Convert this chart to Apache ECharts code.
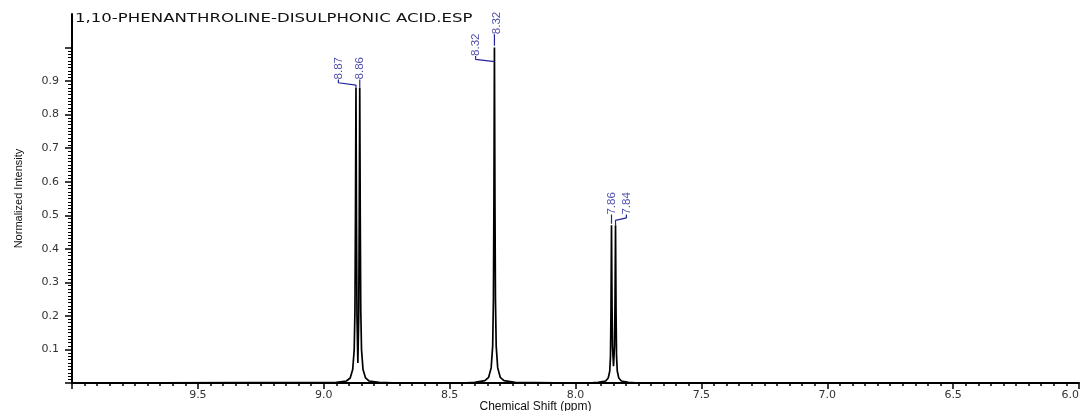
<!DOCTYPE html>
<html>
<head>
    <meta charset="utf-8">
    <title>1,10-PHENANTHROLINE-DISULPHONIC ACID.ESP</title>
    <script type="text/javascript" src="https://cdn.jsdelivr.net/npm/echarts@6/dist/echarts.min.js"></script>
    <style>
        html, body { margin: 0; padding: 0; background: #fff; }
    </style>
</head>
<body>

<div id="main" style="width: 1082px; height: 411px;"></div>

<script>
    // spectrum (ppm, normalized intensity)
    var shift = [10.0, 8.95, 8.91, 8.895, 8.885, 8.879, 8.876, 8.874, 8.872, 8.870, 8.868, 8.8645,
        8.861, 8.859, 8.857, 8.855, 8.853, 8.850, 8.844, 8.834, 8.82, 8.78, 8.70,
        8.45, 8.40, 8.36, 8.345, 8.335, 8.329, 8.326, 8.324, 8.322, 8.320, 8.318, 8.315,
        8.309, 8.299, 8.284, 8.24, 8.0,
        7.95, 7.91, 7.88, 7.87, 7.864, 7.861, 7.859, 7.857, 7.855, 7.853, 7.849,
        7.845, 7.843, 7.841, 7.839, 7.837, 7.834, 7.828, 7.818, 7.79, 7.75, 6.0];
    var intensity = [0, 0.002, 0.006, 0.015, 0.04, 0.10, 0.22, 0.50, 0.88, 0.50, 0.20, 0.06,
        0.20, 0.50, 0.88, 0.50, 0.22, 0.10, 0.04, 0.015, 0.006, 0.002, 0,
        0, 0.002, 0.007, 0.017, 0.045, 0.11, 0.25, 0.55, 1.0, 0.55, 0.25, 0.11,
        0.045, 0.017, 0.007, 0.002, 0,
        0, 0.002, 0.006, 0.015, 0.035, 0.08, 0.22, 0.47, 0.24, 0.11, 0.05,
        0.11, 0.24, 0.47, 0.22, 0.08, 0.035, 0.015, 0.006, 0.002, 0, 0];

    // peak picking labels
    var peakLabels = ['8.87', '8.86', '8.32', '8.32', '7.86', '7.84'];
    var peakShift = [8.872, 8.857, 8.322, 8.322, 7.857, 7.841];
    var peakTop = [0.88, 0.88, 0.958, 1.005, 0.475, 0.47];
    // where each label text sits (ppm, intensity of its bottom end)
    var labelShift = [8.942, 8.855, 8.397, 8.314, 7.855, 7.798];
    var labelBase = [0.905, 0.905, 0.975, 1.04, 0.502, 0.502];

    var xTicks = [6.0, 6.5, 7.0, 7.5, 8.0, 8.5, 9.0, 9.5];
    var yTicks = [0.1, 0.2, 0.3, 0.4, 0.5, 0.6, 0.7, 0.8, 0.9];

    var spectrum = [];
    for (var i = 0; i < shift.length; i++) {
        spectrum.push([shift[i], intensity[i]]);
    }

    var labelData = [];
    var connectors = [];
    for (var k = 0; k < peakLabels.length; k++) {
        labelData.push([labelShift[k], labelBase[k], peakLabels[k]]);
        var lx = labelShift[k], px = peakShift[k], lb = labelBase[k];
        var pts;
        if (Math.abs(lx - px) < 0.01) {
            pts = [[px, lb], [px, peakTop[k]]];
        } else {
            pts = [[lx, lb], [lx, lb - 0.01], [px, lb - 0.017], [px, peakTop[k]]];
        }
        connectors.push({
            type: 'line', xAxisIndex: 0, yAxisIndex: 0, data: pts,
            symbol: 'none', silent: true, animation: false,
            lineStyle: { color: '#23239b', width: 1.2 }
        });
    }

    var chart = echarts.init(document.getElementById('main'));
    var series = [{
        type: 'line',
        xAxisIndex: 0,
        yAxisIndex: 0,
        data: spectrum,
        symbol: 'none',
        sampling: 'none',
        animation: false,
        lineStyle: { color: '#000', width: 1.7 }
    }, {
        type: 'scatter',
        xAxisIndex: 0,
        yAxisIndex: 0,
        data: labelData,
        symbolSize: 0,
        animation: false,
        label: {
            show: true,
            position: [0, 0],
            rotate: 90,
            align: 'left',
            verticalAlign: 'middle',
            formatter: function (p) { return p.data[2]; },
            color: '#23239b',
            fontSize: 11.5,
            fontFamily: '"Liberation Sans", sans-serif'
        }
    }].concat(connectors);

    var option = {
        backgroundColor: '#fff',
        graphic: [{
            type: 'text',
            left: 75,
            top: 13,
            scaleX: 1.38,
            style: {
                text: '1,10-PHENANTHROLINE-DISULPHONIC ACID.ESP',
                fill: '#111',
                font: '12px "DejaVu Sans"'
            }
        }],
        grid: [
            { left: 72, right: 3, top: 14, bottom: 28, outerBoundsMode: 'none' },
            { left: 72, right: 3, top: 47.5, bottom: 28, outerBoundsMode: 'none' }
        ],
        xAxis: [{
            gridIndex: 0,
            type: 'value',
            inverse: true,
            min: 6.0,
            max: 10.0,
            interval: 0.5,
            name: 'Chemical Shift (ppm)',
            nameLocation: 'middle',
            nameGap: 18,
            nameMoveOverlap: false,
            nameTextStyle: { fontSize: 12, color: '#111', fontFamily: 'Liberation Sans', padding: [0, 80, 0, 0] },
            axisLine: { show: true, lineStyle: { color: '#000', width: 2 } },
            axisTick: { show: true, length: 6, lineStyle: { color: '#000', width: 1.5 } },
            minorTick: { show: true, splitNumber: 10, length: 3, lineStyle: { color: '#000', width: 1.5 } },
            splitLine: { show: false },
            axisLabel: {
                margin: 7,
                fontSize: 11,
                color: '#333',
                fontFamily: 'DejaVu Sans',
                alignMinLabel: 'right',
                formatter: function (v) {
                    for (var j = 0; j < xTicks.length; j++) {
                        if (Math.abs(xTicks[j] - v) < 1e-6) return v.toFixed(1);
                    }
                    return '';
                }
            }
        }, {
            gridIndex: 1,
            type: 'value',
            inverse: true,
            min: 6.0,
            max: 10.0,
            show: false
        }],
        yAxis: [{
            gridIndex: 0,
            type: 'value',
            min: 0,
            max: 1.1,
            name: 'Normalized Intensity',
            nameLocation: 'middle',
            nameGap: 48,
            nameMoveOverlap: false,
            nameTextStyle: { fontSize: 11, color: '#111', fontFamily: '"Liberation Sans", sans-serif' },
            axisLine: { show: true, lineStyle: { color: '#000', width: 2 } },
            axisTick: { show: false },
            axisLabel: { show: false },
            splitLine: { show: false }
        }, {
            gridIndex: 1,
            type: 'value',
            min: 0,
            max: 1.0,
            interval: 0.1,
            axisLine: { show: true, lineStyle: { color: '#000', width: 2 } },
            axisTick: { show: true, length: 7, lineStyle: { color: '#000', width: 1.5 } },
            minorTick: { show: true, splitNumber: 10, length: 4, lineStyle: { color: '#000', width: 1 } },
            splitLine: { show: false },
            axisLabel: {
                margin: 13,
                fontSize: 11,
                color: '#333',
                fontFamily: 'DejaVu Sans',
                formatter: function (v) {
                    for (var j = 0; j < yTicks.length; j++) {
                        if (Math.abs(yTicks[j] - v) < 1e-6) return v.toFixed(1);
                    }
                    return '';
                }
            }
        }],
        series: series
    };
    chart.setOption(option);
</script>

</body>
</html>
